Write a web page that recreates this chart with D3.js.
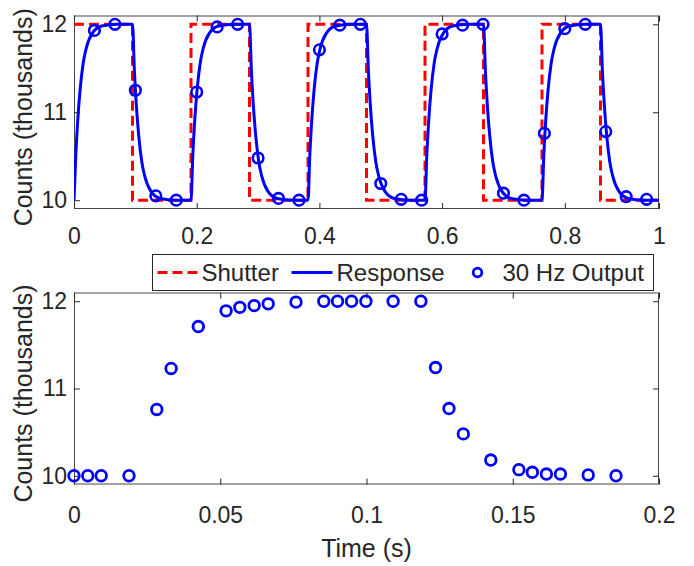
<!DOCTYPE html>
<html>
<head>
<meta charset="utf-8">
<script src="https://cdn.jsdelivr.net/npm/d3@7"></script>
<style>
  body { margin: 0; background: #fff; }
  text { font-family: "Liberation Sans", Arial, Helvetica, sans-serif; fill: #262626; }
</style>
</head>
<body>
<div id="chart"></div>
<script>
// shutter square wave, edge times, counts in thousands
var shutterTime = [0, 0.0954, 0.1907, 0.2861, 0.3814, 0.4768, 0.5721, 0.6675, 0.7628, 0.8582, 0.9535];
var shutterCounts = [12, 10, 12, 10, 12, 10, 12, 10, 12, 10, 10];

// detector response, points
var responseTime = [
  0, 0.003, 0.006, 0.01, 0.015, 0.02, 0.03, 0.045, 0.07,
  0.0954, 0.0984, 0.1014, 0.1054, 0.1104, 0.1154, 0.1254, 0.1404, 0.1654,
  0.1907, 0.1937, 0.1967, 0.2007, 0.2057, 0.2107, 0.2207, 0.2357, 0.2607,
  0.2861, 0.2891, 0.2921, 0.2961, 0.3011, 0.3061, 0.3161, 0.3311, 0.3561,
  0.3814, 0.3844, 0.3874, 0.3914, 0.3964, 0.4014, 0.4114, 0.4264, 0.4514,
  0.4768, 0.4798, 0.4828, 0.4868, 0.4918, 0.4968, 0.5068, 0.5218, 0.5468,
  0.5721, 0.5751, 0.5781, 0.5821, 0.5871, 0.5921, 0.6021, 0.6171, 0.6421,
  0.6675, 0.6705, 0.6735, 0.6775, 0.6825, 0.6875, 0.6975, 0.7125, 0.7375,
  0.7628, 0.7658, 0.7688, 0.7728, 0.7778, 0.7828, 0.7928, 0.8078, 0.8328,
  0.8582, 0.8612, 0.8642, 0.8682, 0.8732, 0.8782, 0.8882, 0.9032, 0.9282,
  0.9535];
var responseCounts = [
  10, 10.52, 10.9, 11.26, 11.56, 11.73, 11.9, 11.98, 12,
  12, 11.48, 11.1, 10.74, 10.44, 10.27, 10.1, 10.02, 10,
  10, 10.52, 10.9, 11.26, 11.56, 11.73, 11.9, 11.98, 12,
  12, 11.48, 11.1, 10.74, 10.44, 10.27, 10.1, 10.02, 10,
  10, 10.52, 10.9, 11.26, 11.56, 11.73, 11.9, 11.98, 12,
  12, 11.48, 11.1, 10.74, 10.44, 10.27, 10.1, 10.02, 10,
  10, 10.52, 10.9, 11.26, 11.56, 11.73, 11.9, 11.98, 12,
  12, 11.48, 11.1, 10.74, 10.44, 10.27, 10.1, 10.02, 10,
  10, 10.52, 10.9, 11.26, 11.56, 11.73, 11.9, 11.98, 12,
  12, 11.48, 11.1, 10.74, 10.44, 10.27, 10.1, 10.02, 10,
  10];

// 30 Hz samples (top panel circles)
var sampleTime = [0.0333, 0.0667, 0.1, 0.1333, 0.1667, 0.2, 0.2333, 0.2667, 0.3, 0.3333,
  0.3667, 0.4, 0.4333, 0.4667, 0.5, 0.5333, 0.5667, 0.6, 0.6333, 0.6667,
  0.7, 0.7333, 0.7667, 0.8, 0.8333, 0.8667, 0.9, 0.9333];
var sampleCounts = [11.93, 12, 11.25, 10.05, 10, 11.23, 11.97, 12, 10.48, 10.02,
  10, 11.71, 11.99, 12, 10.19, 10.01, 10, 11.89, 11.99, 12,
  10.08, 10, 10.76, 11.95, 12, 10.78, 10.04, 10.01];

// same samples folded into one shutter period (bottom panel)
var foldTime = [0, 0.0047, 0.0093, 0.0188, 0.0283, 0.0332, 0.0425, 0.052, 0.0567, 0.0616,
  0.0664, 0.0759, 0.0854, 0.0901, 0.0949, 0.0998, 0.1091, 0.1186, 0.1236, 0.1282,
  0.1331, 0.1425, 0.1521, 0.1567, 0.1615, 0.1663, 0.1758, 0.1853];
var foldCounts = [10, 10, 10, 10, 10.76, 11.23, 11.71, 11.89, 11.93, 11.95,
  11.97, 11.99, 12, 12, 12, 12, 12, 12, 11.24, 10.77,
  10.48, 10.18, 10.07, 10.04, 10.02, 10.02, 10.01, 10];

// tick labels
var topXTicks = [0, 0.2, 0.4, 0.6, 0.8, 0.9535];
var topXLabels = ["0", "0.2", "0.4", "0.6", "0.8", "1"];
var bottomXTicks = [0, 0.05, 0.1, 0.15, 0.2];
var bottomXLabels = ["0", "0.05", "0.1", "0.15", "0.2"];
var yTicks = [10, 11, 12];
var yLabels = ["10", "11", "12"];
var legendNames = ["Shutter", "Response", "30 Hz Output"];

var W = 694, H = 566;
var blue = "#0000ff", red = "#ff0000", axisCol = "#262626";

var svg = d3.select("#chart").append("svg")
  .attr("width", W).attr("height", H);

function makeAxes(left, top, w, h, xDomain, xTicks, xLabels, xPad) {
  var g = svg.append("g").attr("transform", "translate(" + left + "," + top + ")");
  var x = d3.scaleLinear().domain(xDomain).range([0, w]);
  var y = d3.scaleLinear().domain([9.9, 12.1]).range([h, 0]);

  g.append("rect").attr("width", w).attr("height", h).attr("fill", "#fff");

  var xb = g.append("g").attr("transform", "translate(0," + h + ")")
    .call(d3.axisBottom(x).tickValues(xTicks)
      .tickFormat(function(d, i) { return xLabels[i]; })
      .tickSizeInner(-6).tickSizeOuter(0).tickPadding(xPad));
  var xt = g.append("g")
    .call(d3.axisTop(x).tickValues(xTicks).tickFormat("")
      .tickSizeInner(-6).tickSizeOuter(0));
  var yl = g.append("g")
    .call(d3.axisLeft(y).tickValues(yTicks)
      .tickFormat(function(d, i) { return yLabels[i]; })
      .tickSizeInner(-6).tickSizeOuter(0).tickPadding(7));
  var yr = g.append("g").attr("transform", "translate(" + w + ",0)")
    .call(d3.axisRight(y).tickValues(yTicks).tickFormat("")
      .tickSizeInner(-6).tickSizeOuter(0));

  [xb, xt, yl, yr].forEach(function(a) {
    a.select(".domain").remove();
    a.selectAll("line").attr("stroke", axisCol).attr("stroke-width", 1);
    a.selectAll("text").style("font-size", "23px").attr("fill", axisCol);
  });

  g.append("rect").attr("x", 0.5).attr("y", 0.5)
    .attr("width", w - 1).attr("height", h - 1)
    .attr("fill", "none").attr("stroke", axisCol).attr("stroke-width", 1).attr("opacity", 0.85);

  g.append("text")
    .attr("transform", "translate(" + (-42) + "," + (h / 2 + 5) + ") rotate(-90)")
    .attr("text-anchor", "middle")
    .style("font-size", "25px")
    .text("Counts (thousands)");

  return { g: g, x: x, y: y, w: w, h: h };
}

// top panel
var topAx = makeAxes(74, 15.5, 585, 193.5, [0, 0.9535], topXTicks, topXLabels, 19);

topAx.g.append("clipPath").attr("id", "clipTop")
  .append("rect").attr("width", topAx.w).attr("height", topAx.h);

var shutterLine = d3.line()
  .x(function(d, i) { return topAx.x(shutterTime[i]); })
  .y(function(d) { return topAx.y(d); })
  .curve(d3.curveStepAfter);

topAx.g.append("path")
  .attr("d", shutterLine(shutterCounts))
  .attr("clip-path", "url(#clipTop)")
  .attr("fill", "none").attr("stroke", red)
  .attr("stroke-width", 3).attr("stroke-dasharray", "10,5");

var responseLine = d3.line()
  .x(function(d, i) { return topAx.x(responseTime[i]); })
  .y(function(d) { return topAx.y(d); })
  .curve(d3.curveMonotoneX);

topAx.g.append("path")
  .attr("d", responseLine(responseCounts))
  .attr("clip-path", "url(#clipTop)")
  .attr("fill", "none").attr("stroke", blue).attr("stroke-width", 3);

topAx.g.selectAll(".samp")
  .data(sampleCounts)
  .enter()
  .append("circle")
  .attr("cx", function(d, i) { return topAx.x(sampleTime[i]); })
  .attr("cy", function(d) { return topAx.y(d); })
  .attr("r", 5.3)
  .attr("fill", "none").attr("stroke", blue).attr("stroke-width", 2.6);

// bottom panel
var botAx = makeAxes(74, 292.5, 585, 192, [0, 0.2], bottomXTicks, bottomXLabels, 22);

botAx.g.selectAll(".fold")
  .data(foldCounts)
  .enter()
  .append("circle")
  .attr("cx", function(d, i) { return botAx.x(foldTime[i]); })
  .attr("cy", function(d) { return botAx.y(d); })
  .attr("r", 5.3)
  .attr("fill", "none").attr("stroke", blue).attr("stroke-width", 2.8);

svg.append("text")
  .attr("x", 74 + 585 / 2).attr("y", 557)
  .attr("text-anchor", "middle")
  .style("font-size", "25px")
  .text("Time (s)");

// legend
var leg = svg.append("g").attr("transform", "translate(152.5,254.5)");
leg.append("rect").attr("width", 501).attr("height", 36)
  .attr("fill", "#fff").attr("stroke", axisCol).attr("stroke-width", 1);

var ly = 18;
leg.append("line").attr("x1", 5).attr("x2", 45).attr("y1", ly).attr("y2", ly)
  .attr("stroke", red).attr("stroke-width", 3).attr("stroke-dasharray", "10,5");
leg.append("line").attr("x1", 139).attr("x2", 180).attr("y1", ly).attr("y2", ly)
  .attr("stroke", blue).attr("stroke-width", 3);
leg.append("circle").attr("cx", 325).attr("cy", ly).attr("r", 4.3)
  .attr("fill", "none").attr("stroke", blue).attr("stroke-width", 2.8);

var legX = [49, 184, 350];
leg.selectAll(".lt")
  .data(legendNames)
  .enter()
  .append("text")
  .attr("x", function(d, i) { return legX[i]; })
  .attr("y", ly + 8.5)
  .style("font-size", "24px")
  .text(function(d) { return d; });
</script>
</body>
</html>
